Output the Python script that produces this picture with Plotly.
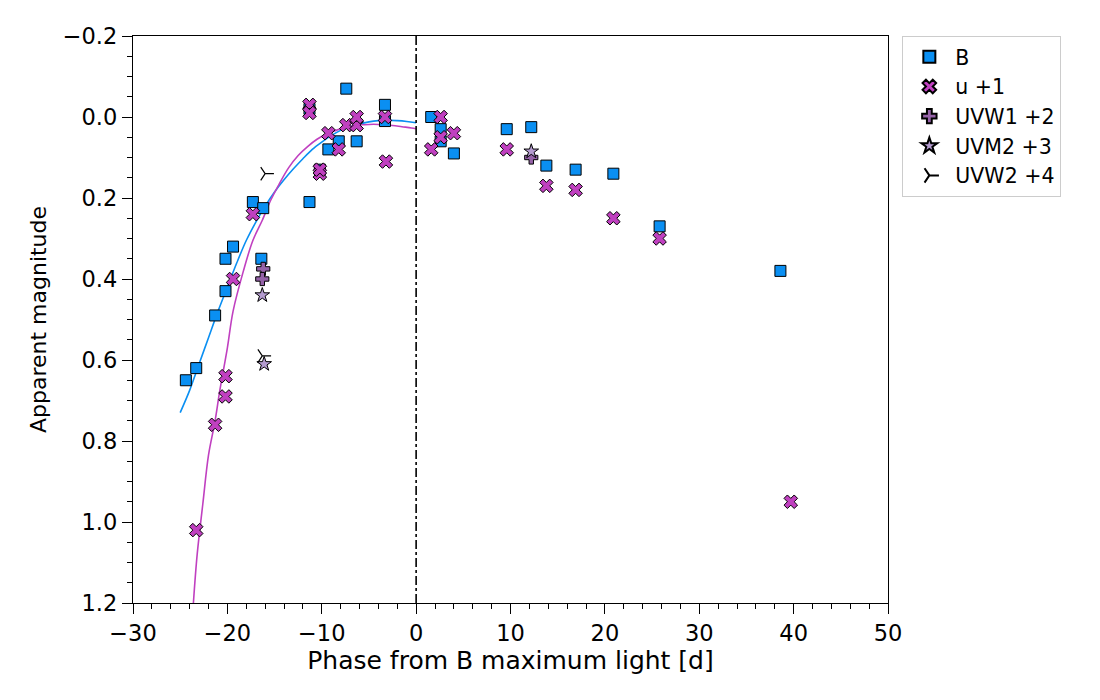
import plotly.graph_objects as go

# ---- data ----
b_phase = [-24.4, -23.3, -21.3, -20.2, -20.2, -19.4, -17.3, -16.2, -16.4, -11.3, -11.3,
           -10.2, -9.3, -8.2, -7.4, -6.3, -3.3, -3.3, 1.6, 2.6, 2.6, 4.0, 9.6, 12.2,
           13.8, 16.9, 20.9, 25.8, 38.6]
b_mag = [0.65, 0.62, 0.49, 0.43, 0.35, 0.32, 0.21, 0.225, 0.35, 0.21, -0.02,
         0.13, 0.08, 0.06, -0.07, 0.06, -0.03, 0.01, 0.0, 0.03, 0.06, 0.09, 0.03, 0.025,
         0.12, 0.13, 0.14, 0.27, 0.38]

u_phase = [-23.3, -21.3, -20.2, -20.2, -19.4, -17.3, -11.3, -11.3, -10.2, -10.2, -9.3,
           -8.2, -7.4, -6.3, -6.3, -3.3, -3.2, 1.6, 2.6, 2.6, 4.0, 9.6, 13.8, 16.9,
           20.9, 25.8, 39.7]
u_mag = [1.02, 0.76, 0.69, 0.64, 0.40, 0.24, -0.03, -0.01, 0.14, 0.13, 0.04,
         0.08, 0.02, 0.02, 0.0, 0.0, 0.11, 0.08, 0.0, 0.05, 0.04, 0.08, 0.17, 0.18,
         0.25, 0.30, 0.95]

uvw1_phase = [-16.2, -16.3, 12.2]
uvw1_mag = [0.375, 0.40, 0.10]

uvm2_phase = [-16.3, -16.1, 12.2]
uvm2_mag = [0.44, 0.61, 0.085]

uvw2_phase = [-16.0, -16.3]
uvw2_mag = [0.14, 0.59]

# fitted curves
b_fit_phase = [-25.0, -24.0, -23.0, -22.0, -21.0, -20.0, -19.0, -18.0, -17.0, -16.0,
               -15.0, -14.0, -13.0, -12.0, -11.0, -10.0, -9.0, -8.0, -7.0, -6.0,
               -5.0, -4.0, -3.0, -2.0, -1.0, 0.0]
b_fit_mag = [0.73, 0.675, 0.61, 0.545, 0.48, 0.42, 0.36, 0.305, 0.26, 0.22,
             0.185, 0.155, 0.128, 0.103, 0.08, 0.062, 0.046, 0.033, 0.024, 0.017,
             0.012, 0.009, 0.008, 0.009, 0.011, 0.014]

u_fit_phase = [-23.6, -23.2, -22.6, -22.0, -21.3, -20.8, -20.0, -19.4, -18.3, -17.3,
               -16.3, -15.4, -14.5, -13.5, -12.5, -11.5, -10.5, -9.5, -8.5, -7.5,
               -6.5, -5.5, -4.5, -3.5, -2.5, -1.5, -0.5, 0.0]
u_fit_mag = [1.20, 1.08, 0.955, 0.835, 0.75, 0.675, 0.57, 0.48, 0.38, 0.305,
             0.255, 0.205, 0.165, 0.125, 0.095, 0.073, 0.055, 0.042, 0.033, 0.026,
             0.021, 0.019, 0.018, 0.019, 0.021, 0.024, 0.027, 0.029]

max_phase = 0.0
x_range = [-30, 50]
y_range = [1.2, -0.2]

BLUE = "#0a8ff2"
PINK = "#c040c0"
UVW1_C = "#9562a8"
UVM2_C = "#b49bcf"

FONT = "DejaVu Sans"

fig = go.Figure()

fig.add_trace(go.Scatter(x=b_fit_phase, y=b_fit_mag, mode="lines", line=dict(color=BLUE, width=1.6, shape="spline"),
                         showlegend=False, hoverinfo="skip"))
fig.add_trace(go.Scatter(x=u_fit_phase, y=u_fit_mag, mode="lines", line=dict(color=PINK, width=1.6, shape="spline"),
                         showlegend=False, hoverinfo="skip"))

fig.add_trace(go.Scatter(x=b_phase, y=b_mag, mode="markers", name="B",
                         marker=dict(symbol="square", size=11, color=BLUE, line=dict(color="black", width=1))))
fig.add_trace(go.Scatter(x=u_phase, y=u_mag, mode="markers", name="u +1",
                         marker=dict(symbol="x", size=12, color=PINK, line=dict(color="black", width=1))))
fig.add_trace(go.Scatter(x=uvw1_phase, y=uvw1_mag, mode="markers", name="UVW1 +2",
                         marker=dict(symbol="cross", size=11, color=UVW1_C, line=dict(color="black", width=1))))
fig.add_trace(go.Scatter(x=uvm2_phase, y=uvm2_mag, mode="markers", name="UVM2 +3",
                         marker=dict(symbol="star", size=11, color=UVM2_C, line=dict(color="black", width=1))))
fig.add_trace(go.Scatter(x=uvw2_phase, y=uvw2_mag, mode="markers", name="UVW2 +4",
                         marker=dict(symbol="y-right", size=11, color="black", line=dict(color="black", width=1.2))))

fig.add_shape(type="line", xref="x", yref="paper", x0=max_phase, x1=max_phase, y0=0, y1=1,
              line=dict(color="black", width=1.6, dash="dashdot"), layer="above")

axis_common = dict(
    showgrid=False, zeroline=False, showline=True, linecolor="black", linewidth=1.3, mirror=True,
    ticks="outside", ticklen=10, tickwidth=1.3, tickcolor="black",
    tickfont=dict(family=FONT, size=22.5, color="black"),
)

fig.update_xaxes(range=x_range, dtick=10, tick0=0,
                 minor=dict(dtick=2, ticklen=5, tickwidth=1.1, tickcolor="black", ticks="outside"),
                 title=dict(text="Phase from B maximum light [d]", font=dict(family=FONT, size=25, color="black"),
                            standoff=5),
                 **axis_common)
fig.update_yaxes(range=y_range, dtick=0.2, tick0=0, tickformat=".1f",
                 minor=dict(dtick=0.05, ticklen=5, tickwidth=1.1, tickcolor="black", ticks="outside"),
                 title=dict(text="Apparent magnitude", font=dict(family=FONT, size=22, color="black"),
                            standoff=10),
                 **axis_common)

fig.update_layout(
    width=1092, height=692,
    margin=dict(l=125, r=212, t=28, b=97),
    paper_bgcolor="white", plot_bgcolor="white",
    font=dict(family=FONT, size=22, color="black"),
    legend=dict(x=1.019, y=1.0, xanchor="left", yanchor="top",
                bordercolor="#cccccc", borderwidth=1, bgcolor="white",
                font=dict(family=FONT, size=20.5, color="black"),
                itemsizing="constant", itemwidth=42),
)

fig.write_html("out.html")
